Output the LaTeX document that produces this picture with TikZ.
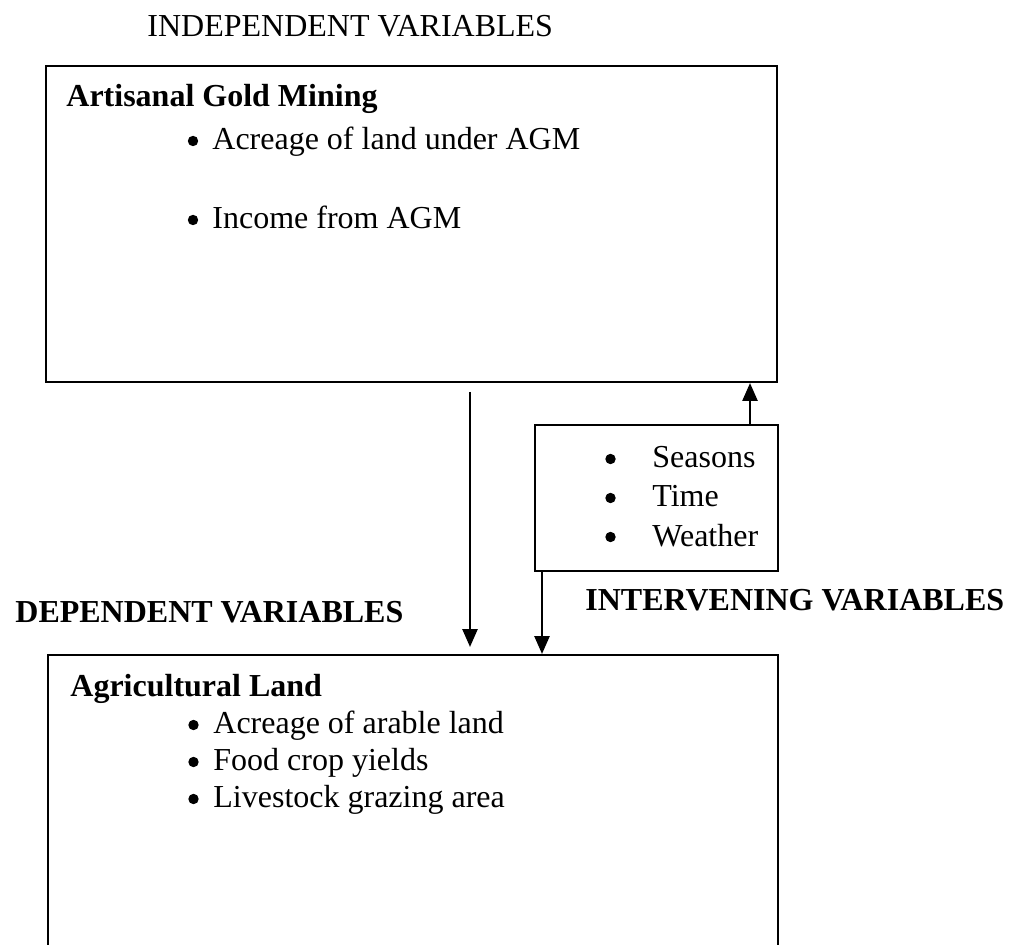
\documentclass[tikz,border=0pt]{standalone}
\usepackage{fontspec}
\setmainfont{Liberation Serif}
\usepackage{tikz}
\usetikzlibrary{arrows.meta}

\tikzset{
	box/.style={draw, line width=1pt, inner sep=0pt},
	txt/.style={anchor=base west, inner sep=0pt, font=\fontsize{16}{19}\selectfont},
	hdr/.style={txt, font=\fontsize{16}{19}\selectfont\bfseries},
	dot/.style={circle, fill=black, inner sep=0pt, minimum size=5.2pt},
	arr/.style={line width=1.3pt, -{Triangle[length=9pt,width=7.5pt]}}
}

\begin{document}
\begin{tikzpicture}[x=0.5pt,y=-0.5pt]
	\useasboundingbox (0,0) rectangle (1021,945);
	\clip (0,0) rectangle (1021,945);
	% boxes
	\node[box, minimum width=365.5pt, minimum height=158pt] (agm) at (411.5,224) {};
	\node[box, minimum width=121.5pt, minimum height=73pt] (int) at (656.5,498) {};
	\node[box, minimum width=365pt, minimum height=160pt] (land) at (413,815) {};
	% headings
	\node[txt] (indep) at (147,37) {INDEPENDENT VARIABLES};
	\node[hdr] (dep) at (15,622) {DEPENDENT VARIABLES};
	\node[hdr] (interv) at (585,610) {INTERVENING VARIABLES};
	% top box
	\node[hdr] (agmtitle) at (66,107) {Artisanal Gold Mining};
	\node[dot] (agmb1) at (193,141) {};
	\node[dot] (agmb2) at (193,220) {};
	\node[txt] (agm1) at (212,150) {Acreage of land under AGM};
	\node[txt] (agm2) at (212,229) {Income from AGM};
	% intervening box
	\node[dot] (intb1) at (610.5,459) {};
	\node[dot] (intb2) at (610.5,498) {};
	\node[dot] (intb3) at (610.5,537) {};
	\node[txt] (int1) at (652,468) {Seasons};
	\node[txt] (int2) at (652,507) {Time};
	\node[txt] (int3) at (652,546) {Weather};
	% bottom box
	\node[hdr] (landtitle) at (70,696) {Agricultural Land};
	\node[dot] (landb1) at (193.5,725) {};
	\node[dot] (landb2) at (193.5,762) {};
	\node[dot] (landb3) at (193.5,799) {};
	\node[txt] (land1) at (213,733) {Acreage of arable land};
	\node[txt] (land2) at (213,770) {Food crop yields};
	\node[txt] (land3) at (213,807) {Livestock grazing area};
	% arrows
	\coordinate (dtop) at (470,392);
	\coordinate (dbot) at (470,647);
	\coordinate (upx) at (750,0);
	\coordinate (dnx) at (542,0);
	\draw[arr] (dtop) -- (dbot);
	\draw[arr] (int.north -| upx) -- (agm.south -| upx);
	\draw[arr] (int.south -| dnx) -- (land.north -| dnx);
\end{tikzpicture}
\end{document}
